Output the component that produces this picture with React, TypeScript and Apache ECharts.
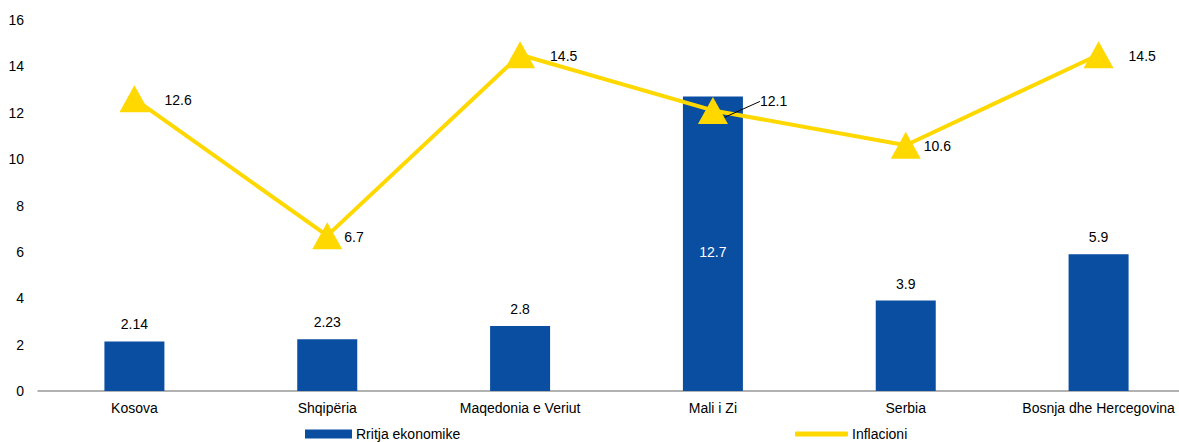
import React, { useEffect, useRef } from "react";
import * as echarts from "echarts";

const categories = ["Kosova", "Shqipëria", "Maqedonia e Veriut", "Mali i Zi", "Serbia", "Bosnja dhe Hercegovina"];
const growth = [2.14, 2.23, 2.8, 12.7, 3.9, 5.9];
const inflation = [12.6, 6.7, 14.5, 12.1, 10.6, 14.5];
const inflationLabelGap = [15, 2, 15, 0, 3, 15];

const FONT = "Liberation Sans, Arial, sans-serif";
const BLUE = "#0A4EA2";
const YELLOW = "#FFD800";
const FS = 14;

export default function App() {
  const ref = useRef<HTMLDivElement>(null);
  useEffect(() => {
    document.body.style.margin = "0";
    const chart = echarts.init(ref.current!, null, { renderer: "svg" });
    chart.setOption({
      animation: false,
      textStyle: { fontFamily: FONT, color: "#000" },
      grid: { left: 38, top: 20, right: 0, height: 371 },
      legend: [
        {
          data: [{ name: "Rritja ekonomike", icon: "rect" }],
          left: 305, top: 427, padding: 0, itemWidth: 47, itemHeight: 9, itemGap: 4,
          textStyle: { fontFamily: FONT, fontSize: FS, color: "#000", padding: [0, 0, 0, -1] },
        },
        {
          data: [{ name: "Inflacioni", icon: "roundRect" }],
          left: 795, top: 427, padding: 0, itemWidth: 53, itemHeight: 5, itemGap: 4,
          textStyle: { fontFamily: FONT, fontSize: FS, color: "#000", padding: [0, 0, 0, -1] },
        },
      ],
      xAxis: {
        type: "category",
        data: categories,
        axisLine: { lineStyle: { color: "#999", width: 1.5 } },
        axisTick: { show: false },
        axisLabel: { color: "#000", fontSize: FS, fontFamily: FONT, margin: 10, interval: 0 },
      },
      yAxis: {
        type: "value",
        min: 0, max: 16, interval: 2,
        splitLine: { show: false },
        axisLine: { show: false },
        axisLabel: { color: "#000", fontSize: FS, fontFamily: FONT, margin: 14 },
      },
      series: [
        {
          name: "Rritja ekonomike",
          type: "bar",
          barWidth: 60,
          itemStyle: { color: BLUE },
          data: growth.map((v, i) =>
            i === 3
              ? { value: v, label: { show: true, position: "inside", offset: [0, 8], color: "#fff", fontSize: FS } }
              : v
          ),
          label: { show: true, position: "top", distance: 10, color: "#000", fontSize: FS, fontFamily: FONT },
          z: 1,
        },
        {
          name: "Inflacioni",
          type: "line",
          symbol: "triangle",
          symbolSize: [30, 27],
          itemStyle: { color: YELLOW },
          lineStyle: { color: YELLOW, width: 4 },
          data: inflation.map((v, i) =>
            i === 3
              ? {
                  value: v,
                  label: { show: true, position: "right", distance: 0, fontSize: FS, color: "#000" },
                  labelLine: { show: true, lineStyle: { color: "#000", width: 1 } },
                }
              : {
                  value: v,
                  label: { show: true, position: "right", distance: inflationLabelGap[i], fontSize: FS, color: "#000" },
                  labelLine: { show: false },
                }
          ),
          labelLayout: (p: any) => (p.dataIndex === 3 ? { dx: 32, dy: -9 } : { dy: 1 }),
          labelLine: { show: false },
          z: 3,
        },
      ],
    });
    return () => chart.dispose();
  }, []);
  return (
    <div style={{ width: 1179, height: 442, overflow: "hidden" }}>
      <div ref={ref} style={{ width: 1195, height: 442 }} />
    </div>
  );
}
